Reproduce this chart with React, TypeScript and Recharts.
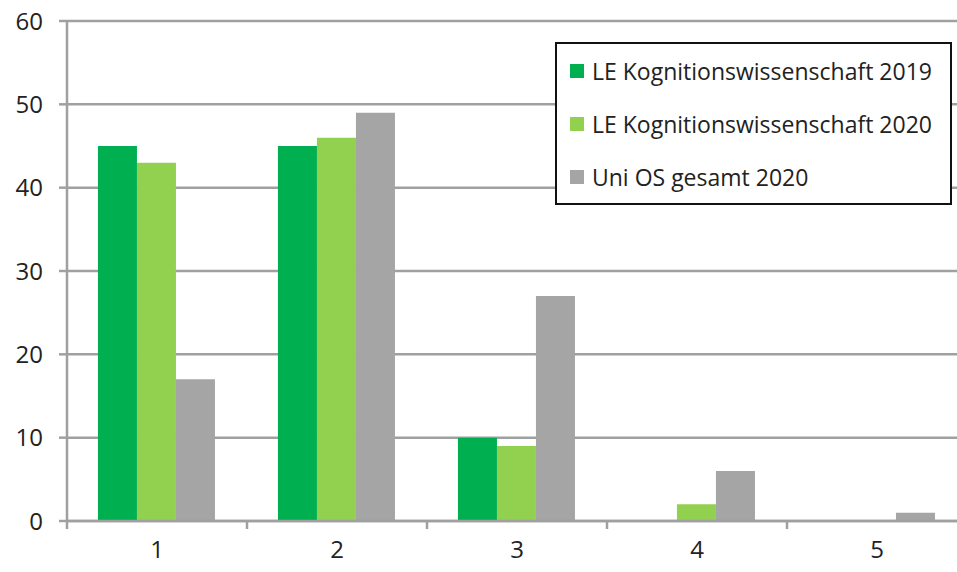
import React from "react";
import { BarChart, Bar, XAxis, YAxis, CartesianGrid } from "recharts";

const categories = ["1", "2", "3", "4", "5"];
const le2019 = [45, 45, 10, 0, 0];
const le2020 = [43, 46, 9, 2, 0];
const uniOs2020 = [17, 49, 27, 6, 1];
const yTicks = [0, 10, 20, 30, 40, 50, 60];

const SERIES = [
    { key: "le2019", name: "LE Kognitionswissenschaft 2019", color: "#00B050" },
    { key: "le2020", name: "LE Kognitionswissenschaft 2020", color: "#92D050" },
    { key: "uni", name: "Uni OS gesamt 2020", color: "#A5A5A5" },
];

const data = categories.map((c, i) => ({
    cat: c,
    le2019: le2019[i],
    le2020: le2020[i],
    uni: uniOs2020[i],
}));

const FONT = "'Open Sans', sans-serif";
const AXIS_GRAY = "#A0A0A0";
const CHART_W = 975;
const CHART_H = 572;
const LEFT = 67;
const PLOT_W = CHART_W - LEFT - 8;
const BAND = PLOT_W / categories.length;

const XTick = (props: any) => {
    const { x, y, payload } = props;
    return (
        <g>
            <line x1={x - BAND / 2} x2={x - BAND / 2} y1={y} y2={y + 8} stroke={AXIS_GRAY} strokeWidth={2.5} />
            <text x={x} y={y + 27} textAnchor="middle" dominantBaseline="central" fill="#222" fontSize={24} fontFamily={FONT}>
                {payload.value}
            </text>
        </g>
    );
};

// legend drawn as an overlay so it doesn't eat plot space
const LegendBox = () => (
    <div style={{ position: "absolute", left: 555, top: 42, width: 397, height: 163, border: "2px solid #111", background: "#fff", boxSizing: "border-box", padding: "0 0 0 13px", fontFamily: FONT, fontSize: 23, color: "#222" }}>
        {SERIES.map((s) => (
            <div key={s.key} style={{ display: "flex", alignItems: "center", height: 53 }}>
                <span style={{ display: "inline-block", width: 14, height: 14, background: s.color, marginRight: 8 }} />
                <span>{s.name}</span>
            </div>
        ))}
    </div>
);

const App: React.FC = () => {
    return (
        <div style={{ position: "absolute", left: 0, top: 0, width: 957, height: 572, overflow: "hidden", background: "#fff" }}>
            <BarChart
                width={CHART_W}
                height={CHART_H}
                data={data}
                margin={{ top: 21, right: 8, left: 0, bottom: 11 }}
                barCategoryGap="17.2%"
                barGap={0}
            >
                <CartesianGrid vertical={false} stroke={AXIS_GRAY} strokeWidth={2.5} />
                <XAxis
                    dataKey="cat"
                    tick={<XTick />}
                    tickLine={false}
                    tickSize={0}
                    tickMargin={0}
                    height={40}
                    axisLine={{ stroke: AXIS_GRAY, strokeWidth: 2.5 }}
                />
                <YAxis
                    width={LEFT}
                    domain={[0, 60]}
                    ticks={yTicks}
                    interval={0}
                    tickSize={8}
                    tickMargin={16}
                    tickLine={{ stroke: AXIS_GRAY, strokeWidth: 2.5 }}
                    axisLine={{ stroke: AXIS_GRAY, strokeWidth: 2.5 }}
                    tick={{ fill: "#222", fontSize: 24, fontFamily: FONT }}
                />
                {SERIES.map((s) => (
                    <Bar key={s.key} dataKey={s.key} name={s.name} fill={s.color} isAnimationActive={false} />
                ))}
            </BarChart>
            <LegendBox />
        </div>
    );
};

export default App;
